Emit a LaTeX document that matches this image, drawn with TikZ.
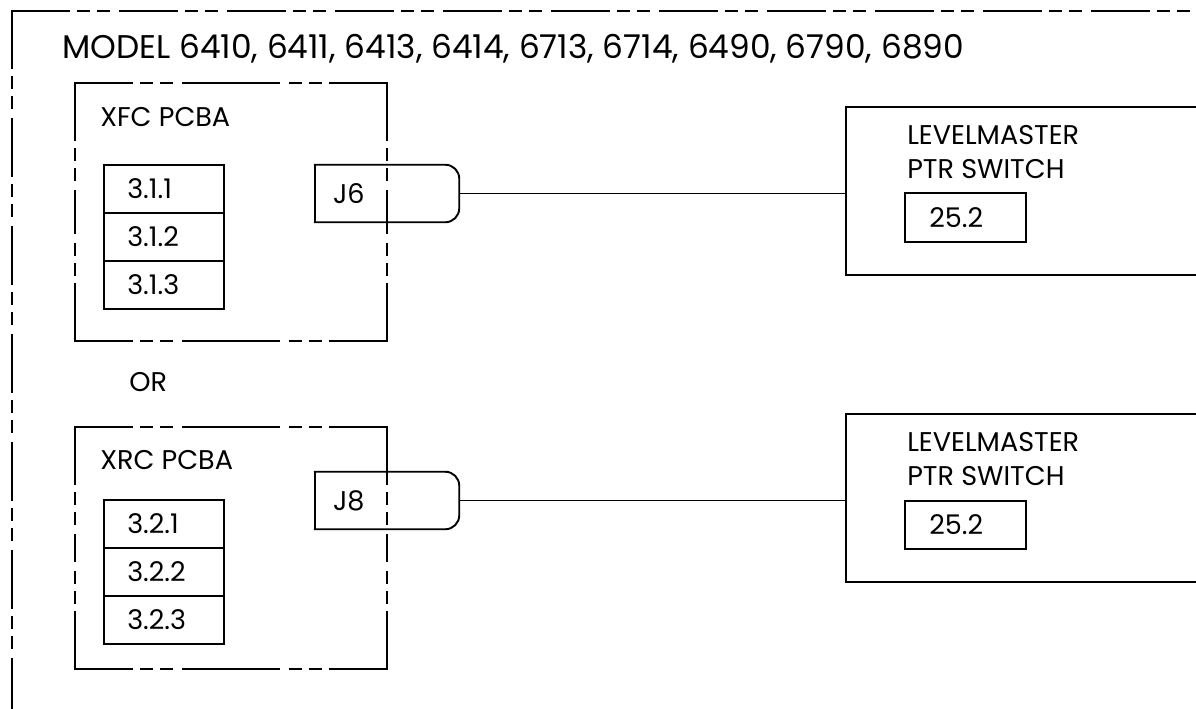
\documentclass[tikz,border=0pt]{standalone}
\usepackage{fontspec}
\setmainfont{Poppins}
\usetikzlibrary{fit}
\newcommand\lblfont{\fontsize{20.3pt}{24pt}\selectfont}
\newcommand\titlefont{\fontsize{24.6pt}{29pt}\selectfont}
\newcommand\phantombox[1]{%
  \draw[phantom] (#1.north west) -- (#1.north);
  \draw[phantom] (#1.north east) -- (#1.north);
  \draw[phantom] (#1.south west) -- (#1.south);
  \draw[phantom] (#1.south east) -- (#1.south);
  \draw[phantom] (#1.north west) -- (#1.west);
  \draw[phantom] (#1.south west) -- (#1.west);
  \draw[phantom] (#1.north east) -- (#1.east);
  \draw[phantom] (#1.south east) -- (#1.east);
}
\begin{document}
\begin{tikzpicture}[x=0.75pt,y=-0.75pt,
  every node/.style={inner sep=0pt, font=\lblfont},
  box/.style={draw, line width=1.45pt, inner sep=0pt},
  shell/.style={inner sep=0pt},
  edge/.style={line width=1.45pt, line cap=rect},
  phantom/.style={line width=1.45pt, line cap=rect, dash pattern=on 42.75pt off 6.75pt on 8.25pt off 6.75pt on 8.25pt off 8.25pt},
  wire/.style={line width=1.15pt},
  txt/.style={anchor=base west}
]
\clip (0,0) rectangle (1196,708);

% outer frame
\coordinate (ftl) at (12,11);
\coordinate (fbl) at (12,720);
\coordinate (ftr) at (1215,11);
\draw[phantom] (ftl) -- (fbl);
\draw[phantom] (ftl) -- (ftr);
\node[txt, font=\titlefont] (title) at (62,58) {MODEL 6410, 6411, 6413, 6414, 6713, 6714, 6490, 6790, 6890};

% ---------- XFC PCBA ----------
\node[shell, fit={(75,83) (387,341)}] (xfc) {};
\phantombox{xfc}
\node[txt] (xfct) at (100,126) {XFC PCBA};

\node[box, fit={(104,165) (224,213)}] (c311) {};
\node[box, fit={(104,213) (224,261)}] (c312) {};
\node[box, fit={(104,261) (224,309)}] (c313) {};
\node[anchor=west] (t311) at ([xshift=18pt]c311.west) {3.1.1};
\node[anchor=west] (t312) at ([xshift=18pt]c312.west) {3.1.2};
\node[anchor=west] (t313) at ([xshift=18pt]c313.west) {3.1.3};

\node[shell, fit={(315,165) (459,222)}] (j6) {};
\draw[edge, rounded corners=10.5pt] (j6.north west) -- (j6.north east) -- (j6.south east) -- (j6.south west);
\draw[edge] (j6.south west) -- (j6.north west);
\node[anchor=west] (j6t) at ([xshift=13.5pt]j6.west) {J6};

% LEVELMASTER 1
\node[box, fit={(846,107) (1220,275)}] (lm1) {};
\node[txt] (lm1a) at (907,144) {LEVELMASTER};
\node[txt] (lm1b) at (907,178) {PTR SWITCH};
\node[box, fit={(905,193) (1026,242)}] (s1) {};
\node[anchor=west] (s1t) at ([xshift=18.75pt]s1.west) {25.2};

\draw[wire] (j6.east) -- (j6.east -| lm1.west);

% OR
\node[txt] (ort) at (129,391) {OR};

% ---------- XRC PCBA ----------
\node[shell, fit={(75,427) (387,669)}] (xrc) {};
\phantombox{xrc}
\node[txt] (xrct) at (100,469) {XRC PCBA};

\node[box, fit={(104,500) (224,548)}] (c321) {};
\node[box, fit={(104,548) (224,596)}] (c322) {};
\node[box, fit={(104,596) (224,644)}] (c323) {};
\node[anchor=west] (t321) at ([xshift=18pt]c321.west) {3.2.1};
\node[anchor=west] (t322) at ([xshift=18pt]c322.west) {3.2.2};
\node[anchor=west] (t323) at ([xshift=18pt]c323.west) {3.2.3};

\node[shell, fit={(315,472) (459,529)}] (j8) {};
\draw[edge, rounded corners=10.5pt] (j8.north west) -- (j8.north east) -- (j8.south east) -- (j8.south west);
\draw[edge] (j8.south west) -- (j8.north west);
\node[anchor=west] (j8t) at ([xshift=13.5pt]j8.west) {J8};

% LEVELMASTER 2
\node[box, fit={(846,414) (1220,582)}] (lm2) {};
\node[txt] (lm2a) at (907,451) {LEVELMASTER};
\node[txt] (lm2b) at (907,485) {PTR SWITCH};
\node[box, fit={(905,501) (1026,549)}] (s2) {};
\node[anchor=west] (s2t) at ([xshift=18.75pt]s2.west) {25.2};

\draw[wire] (j8.east) -- (j8.east -| lm2.west);
\end{tikzpicture}
\end{document}
